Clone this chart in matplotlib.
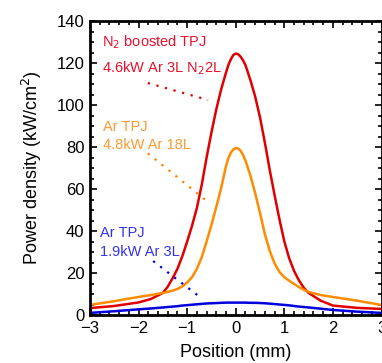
import matplotlib
matplotlib.use("Agg")
import matplotlib.pyplot as plt
from matplotlib.ticker import MultipleLocator

plt.rcParams['font.family'] = ['Liberation Sans', 'DejaVu Sans']

position = [-3, -2.5, -2, -1.75, -1.5, -1.4, -1.3, -1.2, -1.1, -1.0, -0.9, -0.8, -0.7,
            -0.6, -0.5, -0.4, -0.3, -0.2, -0.15, -0.1, -0.05, 0, 0.05, 0.1, 0.15, 0.2,
            0.3, 0.4, 0.5, 0.6, 0.7, 0.8, 0.9, 1.0, 1.1, 1.2, 1.3, 1.4, 1.5, 1.75,
            2, 2.5, 3]

n2_boosted = [3.3, 4.3, 6.0, 7.6, 10.5, 13.5, 17.5, 22, 28, 35, 42.5, 51, 62,
              75, 87, 98, 107.5, 115.5, 119.2, 121.8, 123.8, 124.5, 124.2, 123, 121.3, 119,
              112, 104, 94, 82, 69, 57, 45.5, 35, 27, 21, 16.5, 13, 10.5, 6.8,
              4.5, 3.4, 2.9]

ar_18l = [4.8, 6.6, 8.6, 9.5, 10.5, 11, 11.6, 12.4, 13.6, 15.5, 18, 22, 27.5,
          35, 43, 51.5, 60.5, 71, 74.8, 77.3, 78.9, 79.5, 79.3, 78.2, 76.2, 73.5,
          66.5, 58, 48.5, 38.5, 30.5, 24.5, 20.5, 18, 16.3, 14.8, 13.3, 12, 11, 9.5,
          8.6, 6.8, 4.8]

ar_3l = [1.0, 1.8, 2.7, 3.1, 3.6, 3.8, 4.0, 4.2, 4.5, 4.7, 4.9, 5.1, 5.3,
         5.5, 5.6, 5.7, 5.8, 5.9, 5.9, 5.9, 5.9, 5.9, 5.9, 5.9, 5.9, 5.9,
         5.8, 5.8, 5.7, 5.6, 5.4, 5.2, 5.0, 4.8, 4.6, 4.3, 4.0, 3.8, 3.6, 3.0,
         2.4, 1.6, 1.0]

fig = plt.figure(figsize=(3.82, 3.63), dpi=100)
ax = fig.add_axes([0.2356, 0.1322, 0.7631, 0.8099])

ax.plot(position, n2_boosted, color="#e00000", lw=1.8)
ax.plot(position, ar_18l, color="#ff8c00", lw=1.8)
ax.plot(position, ar_3l, color="#0000dd", lw=1.8)

# labels with dotted pointers
ax.text(-2.75, 130, "N$_2$ boosted TPJ", color="#e8102c", fontsize=10.5, va="center")
ax.text(-2.75, 117.5, "4.6kW Ar 3L N$_2$2L", color="#e8102c", fontsize=10.5, va="center")
ax.plot([-1.81, -0.57], [110.5, 102.4], color="#e00000", lw=1.6, ls=(0, (1, 3)))

ax.text(-2.73, 89.5, "Ar TPJ", color="#ff9933", fontsize=10.5, va="center")
ax.text(-2.73, 81, "4.8kW Ar 18L", color="#ff9933", fontsize=10.5, va="center")
ax.plot([-1.81, -0.57], [77, 53.8], color="#ff7f00", lw=1.6, ls=(0, (1, 3)))

ax.text(-2.79, 39, "Ar TPJ", color="#3333ee", fontsize=10.5, va="center")
ax.text(-2.79, 30, "1.9kW Ar 3L", color="#3333ee", fontsize=10.5, va="center")
ax.plot([-1.70, -0.74], [25.7, 8.6], color="#0000dd", lw=1.6, ls=(0, (1, 3)))

ax.set_xlim(-3, 3)
ax.set_ylim(0, 140)
ax.xaxis.set_major_locator(MultipleLocator(1))
ax.xaxis.set_minor_locator(MultipleLocator(0.2))
ax.yaxis.set_major_locator(MultipleLocator(20))
ax.yaxis.set_minor_locator(MultipleLocator(5))
ax.tick_params(which="both", direction="in", top=True, right=True, width=1.2)
ax.tick_params(which="major", length=5, labelsize=12, pad=4)
ax.tick_params(which="minor", length=3)
for s in ax.spines.values():
    s.set_linewidth(2)

ax.set_xlabel("Position (mm)", fontsize=13, labelpad=6)
ax.set_ylabel("Power density (kW/cm$^2$)", fontsize=13, labelpad=9)

fig.savefig("out.png", dpi=100)
